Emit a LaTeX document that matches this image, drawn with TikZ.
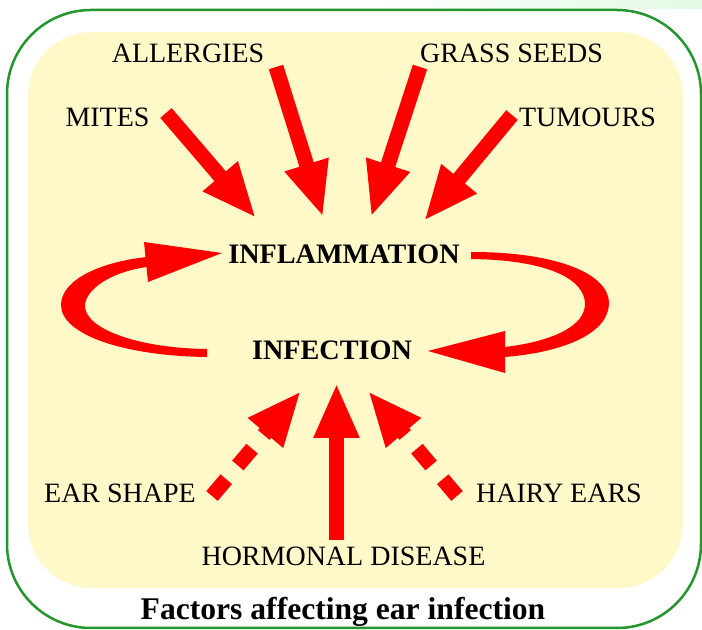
\documentclass[tikz,border=0pt]{standalone}
\usepackage{fontspec}
\setmainfont{Liberation Serif}
\usepackage{xcolor}
\usepackage{tikz}
\usetikzlibrary{arrows.meta, positioning}
\definecolor{FrameGreen}{RGB}{35,150,45}
\definecolor{PanelYellow}{RGB}{255,248,200}
\definecolor{ArrowRed}{RGB}{255,0,0}
\definecolor{StripGreen}{RGB}{226,249,228}

\begin{document}
\begin{tikzpicture}[
  x=0.5pt, y=-0.5pt,
  lbl/.style={anchor=base, inner sep=0pt, font=\fontsize{14pt}{16pt}\selectfont},
  hdr/.style={lbl, font=\fontsize{14.1pt}{16pt}\selectfont\bfseries},
  arr/.style={-{Triangle[length=27.5pt, width=21pt]}, ArrowRed, line width=7.5pt},
  darr/.style={arr, dash pattern=on 11pt off 9pt}
]
  \useasboundingbox (0,0) rectangle (702,630);
  \fill[left color=white, right color=StripGreen] (380,0) rectangle (702,9);
  \draw[FrameGreen, line width=1.25pt, fill=white, rounded corners=42pt] (7,10) rectangle (701,628);
  \fill[PanelYellow, rounded corners=32pt] (28,32) rectangle (683,588);

  % labels
  \node[lbl] (allergies) at (188,63) {ALLERGIES};
  \node[lbl] (mites) at (107.5,127) {MITES};
  \node[lbl] (grass) at (511.5,63) {GRASS SEEDS};
  \node[lbl] (tumours) at (587.5,127) {TUMOURS};
  \node[hdr] (inflam) at (344,264) {INFLAMMATION};
  \node[hdr] (infect) at (332,360) {INFECTION};
  \node[lbl] (earshape) at (120,503) {EAR SHAPE};
  \node[lbl] (hairy) at (559,503) {HAIRY EARS};
  \node[lbl] (hormonal) at (343.5,566) {HORMONAL DISEASE};
  \node[anchor=base, inner sep=0pt, font=\fontsize{15.8pt}{18pt}\selectfont\bfseries]
    (title) at (343,620) {Factors affecting ear infection};

  % arrow ends
  \coordinate (mitesT) at (166,113);    \coordinate (mitesH) at (256,218);
  \coordinate (allerT) at (276,67);     \coordinate (allerH) at (323,217);
  \coordinate (grassT) at (420,67);     \coordinate (grassH) at (371,217);
  \coordinate (tumT) at (512,115);      \coordinate (tumH) at (424,221);
  \coordinate (hormT) at (336.5,540);   \coordinate (hormH) at (336.5,383);
  \coordinate (earT) at (212,496);      \coordinate (earH) at (301,391);
  \coordinate (hairT) at (457,496);     \coordinate (hairH) at (368,391);

  \draw[arr] (mitesT) -- (mitesH);
  \draw[arr] (allerT) -- (allerH);
  \draw[arr] (grassT) -- (grassH);
  \draw[arr] (tumT) -- (tumH);
  \draw[arr] (hormT) -- (hormH);
  \draw[darr] (earT) -- (earH);
  \draw[darr] (hairT) -- (hairH);

  % cycle
  \coordinate (lTip) at (222,253);  \coordinate (rTip) at (428,351);
  \fill[ArrowRed] (207,357) .. controls (125,356) and (61,335) .. (61,305)
    .. controls (61,280) and (100,262) .. (147,257) -- (147,267)
    .. controls (110,272) and (85,290) .. (85,306)
    .. controls (85,328) and (135,348) .. (207,349) -- cycle;
  \fill[ArrowRed] (144,242) -- (lTip) -- (148,282) -- cycle;
  \fill[ArrowRed] (471,252) .. controls (560,252) and (609,275) .. (609,303)
    .. controls (609,333) and (565,352) .. (505,357) -- (505,347)
    .. controls (555,341) and (585,325) .. (585,304)
    .. controls (585,280) and (550,260) .. (471,259) -- cycle;
  \fill[ArrowRed] (505,331) -- (rTip) -- (505,373) -- cycle;
\end{tikzpicture}
\end{document}
